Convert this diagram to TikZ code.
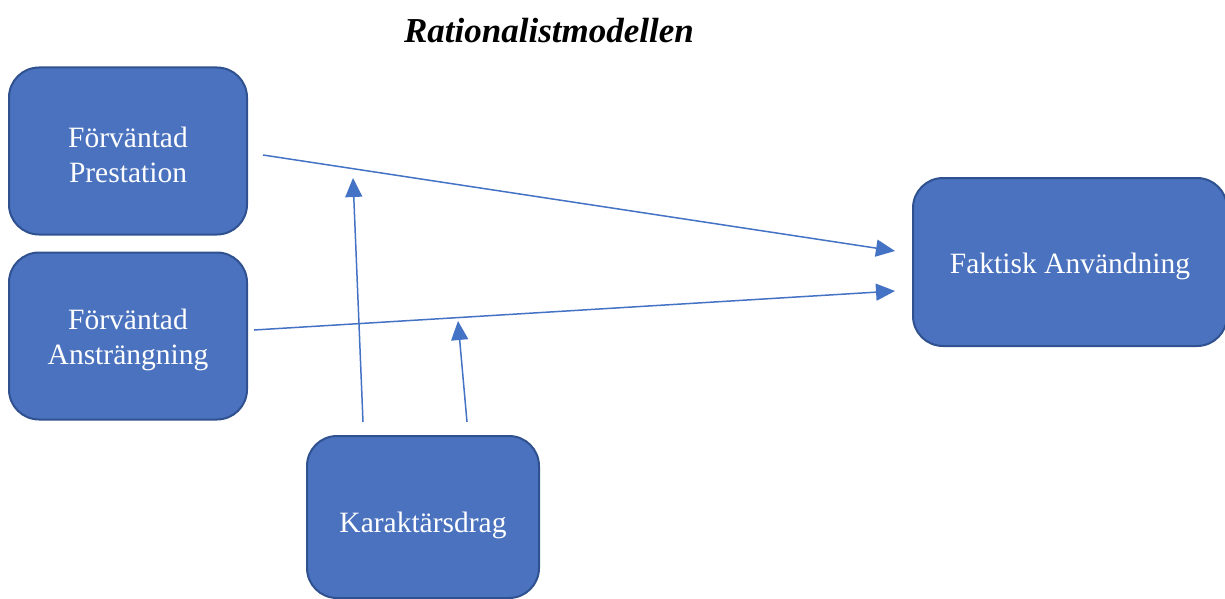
\documentclass[tikz,border=0pt]{standalone}
\usepackage{fontspec}
\setmainfont{Liberation Serif}
\usetikzlibrary{arrows.meta}
\definecolor{boxfill}{HTML}{4A72BE}
\definecolor{boxline}{HTML}{2F5190}
\definecolor{arrowcol}{HTML}{4472C4}
\tikzset{
  box/.style={draw=boxline, line width=2pt, fill=boxfill, rounded corners=30pt,
    inner sep=0pt},
  boxtext/.style={text=white, align=center, inner sep=0pt,
    font=\fontsize{29.5}{35}\selectfont},
  conn/.style={draw=arrowcol, line width=1.5pt, -{Triangle[length=19pt,width=17pt]}},
}
\begin{document}
\begin{tikzpicture}[x=1pt,y=-1pt]
\useasboundingbox (0,0) rectangle (1225,599);
\clip (0,0) rectangle (1225,599);
\node[font=\fontsize{35}{40}\selectfont\bfseries\itshape] (title) at (549,31) {Rationalistmodellen};
\node[box, minimum width=238pt, minimum height=167pt] (fp) at (128,151) {};
\node[box, minimum width=238pt, minimum height=167pt] (fa) at (128,336) {};
\node[box, minimum width=314pt, minimum height=168pt] (fu) at (1070,262) {};
\node[box, minimum width=232pt, minimum height=162pt] (kd) at (423,517) {};
\node[boxtext] (fpt) at ([yshift=-4pt]fp.center) {Förväntad\\Prestation};
\node[boxtext] (fat) at ([yshift=-4pt]fa.center) {Förväntad\\Ansträngning};
\node[boxtext] (fut) at ([yshift=-4pt]fu.center) {Faktisk Användning};
\node[boxtext] (kdt) at ([yshift=-8pt]kd.center) {Karaktärsdrag};
\coordinate (s1) at (263,155);
\coordinate (e1) at (895,251);
\coordinate (s2) at (254,330);
\coordinate (e2) at (895,291);
\coordinate (s3) at (363,422);
\coordinate (e3) at (353,178);
\coordinate (s4) at (467,422);
\coordinate (e4) at (458,321);
\draw[conn] (s1) -- (e1);
\draw[conn] (s2) -- (e2);
\draw[conn] (s3) -- (e3);
\draw[conn] (s4) -- (e4);
\end{tikzpicture}
\end{document}
